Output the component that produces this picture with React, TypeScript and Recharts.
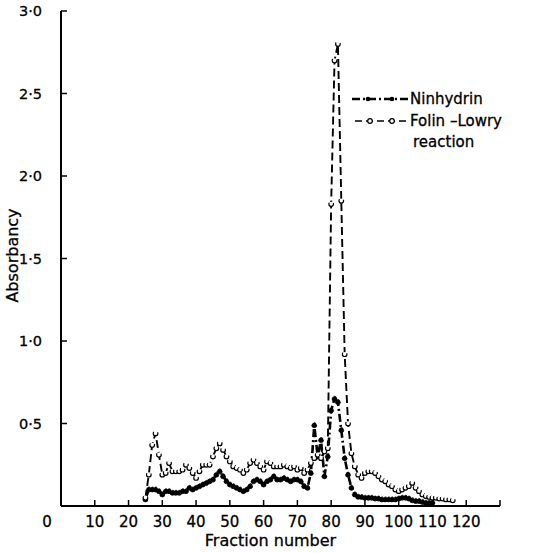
import React from 'react';
import { LineChart, Line, XAxis, YAxis } from 'recharts';

/**
 * Absorbancy of column fractions: ninhydrin vs Folin-Lowry reaction.
 * Ticks point inward, labels use a raised decimal point (0·5).
 */

const FRACTIONS = [
  25, 26, 27, 28, 29, 30, 31, 32, 33, 34, 35, 36, 37, 38, 39, 40, 41, 42, 43, 44,
  45, 46, 47, 48, 49, 50, 51, 52, 53, 54, 55, 56, 57, 58, 59, 60, 61, 62, 63, 64,
  65, 66, 67, 68, 69, 70, 71, 72, 73, 74, 75, 76, 77, 78, 79, 80, 81, 82, 83, 84,
  85, 86, 87, 88, 89, 90, 91, 92, 93, 94, 95, 96, 97, 98, 99, 100, 101, 102, 103, 104,
  105, 106, 107, 108, 109, 110, 111, 112, 113, 114, 115, 116,
];

// fractions 25–110
const NINHYDRIN = [
  0.04, 0.1, 0.1, 0.1, 0.09, 0.07, 0.09, 0.09, 0.08, 0.08, 0.08, 0.09, 0.09, 0.11, 0.1, 0.11,
  0.12, 0.13, 0.14, 0.15, 0.16, 0.19, 0.21, 0.18, 0.15, 0.13, 0.12, 0.11, 0.1, 0.09, 0.1, 0.12,
  0.15, 0.16, 0.15, 0.13, 0.15, 0.16, 0.18, 0.16, 0.16, 0.17, 0.16, 0.15, 0.16, 0.16, 0.15, 0.12,
  0.11, 0.2, 0.49, 0.3, 0.4, 0.18, 0.3, 0.58, 0.65, 0.63, 0.46, 0.29, 0.19, 0.11, 0.07, 0.056,
  0.055, 0.05, 0.05, 0.05, 0.045, 0.045, 0.04, 0.04, 0.04, 0.04, 0.04, 0.045, 0.05, 0.05, 0.045, 0.035,
  0.03, 0.03, 0.025, 0.02, 0.02, 0.02,
];

// fractions 25–116
const FOLIN_LOWRY = [
  0.05, 0.19, 0.37, 0.44, 0.31, 0.19, 0.2, 0.26, 0.21, 0.21, 0.21, 0.22, 0.25, 0.23, 0.2, 0.17,
  0.21, 0.25, 0.25, 0.25, 0.3, 0.35, 0.38, 0.34, 0.3, 0.27, 0.24, 0.23, 0.22, 0.2, 0.22, 0.26,
  0.28, 0.26, 0.24, 0.22, 0.27, 0.26, 0.24, 0.24, 0.24, 0.25, 0.24, 0.23, 0.24, 0.22, 0.23, 0.2,
  0.22, 0.26, 0.29, 0.31, 0.29, 0.33, 0.35, 1.83, 2.7, 2.8, 1.85, 0.92, 0.5, 0.32, 0.24, 0.19,
  0.17, 0.2, 0.21, 0.21, 0.2, 0.18, 0.16, 0.15, 0.13, 0.12, 0.1, 0.09, 0.1, 0.11, 0.12, 0.14,
  0.11, 0.09, 0.07, 0.06, 0.055, 0.05, 0.05, 0.045, 0.045, 0.04, 0.04, 0.035,
];

const X_TICKS = [0, 10, 20, 30, 40, 50, 60, 70, 80, 90, 100, 110, 120, 130];
const Y_TICKS = [0.5, 1, 1.5, 2, 2.5, 3];

const FONT = '"DejaVu Sans", sans-serif';
const INK = { fill: '#000', stroke: '#000', strokeWidth: 0.3, fontFamily: FONT };

const data = FRACTIONS.map((f, i) => ({
  fraction: f,
  ninhydrin: NINHYDRIN[i],
  folin: FOLIN_LOWRY[i],
}));

// inward tick + label below; "0" is nudged left of the y axis
function XTick({ x, y, payload }: any) {
  const v = payload.value;
  const dx = v === 0 ? -14 : 0;
  return (
    <g>
      <line x1={x} y1={y} x2={x} y2={y - 6} stroke="#000" strokeWidth={1.5} />
      {v !== 130 && (
        <text x={x + dx} y={y + 21} textAnchor="middle" fontSize={15} {...INK}>
          {v}
        </text>
      )}
    </g>
  );
}

function YTick({ x, y, payload }: any) {
  const label = payload.value.toFixed(1).replace('.', '·');
  return (
    <g>
      <line x1={x} y1={y} x2={x + 6} y2={y} stroke="#000" strokeWidth={1.5} />
      <text x={x - 19} y={y + 5} textAnchor="end" fontSize={14.5} {...INK}>
        {label}
      </text>
    </g>
  );
}

function XTitle({ viewBox }: any) {
  const cx = viewBox.x + viewBox.width / 2 - 10;
  return (
    <text x={cx} y={546} textAnchor="middle" fontSize={16} {...INK}>
      Fraction number
    </text>
  );
}

function YTitle({ viewBox }: any) {
  const cy = viewBox.y + viewBox.height / 2 - 3;
  return (
    <text x={18} y={cy} transform={`rotate(-90 18 ${cy})`} textAnchor="middle" fontSize={16} {...INK}>
      Absorbancy
    </text>
  );
}

function LegendBox() {
  const t = { fontSize: 15, ...INK };
  return (
    <svg width={180} height={70} style={{ position: 'absolute', left: 350, top: 89, overflow: 'visible' }}>
      <line x1={2} y1={10} x2={58} y2={10} stroke="#000" strokeWidth={2.5} strokeDasharray="8 3 2 3" />
      <circle cx={18} cy={10} r={2.3} fill="#000" />
      <circle cx={42} cy={10} r={2.3} fill="#000" />
      <text x={60} y={15} {...t}>Ninhydrin</text>
      <line x1={5} y1={32} x2={58} y2={32} stroke="#000" strokeWidth={1.5} strokeDasharray="7 4" />
      <circle cx={20} cy={32} r={2.3} fill="#fff" stroke="#000" strokeWidth={1.2} />
      <circle cx={42} cy={32} r={2.3} fill="#fff" stroke="#000" strokeWidth={1.2} />
      <text x={60} y={37} {...t}>Folin –Lowry</text>
      <text x={63} y={58} {...t}>reaction</text>
    </svg>
  );
}

export default function App() {
  return (
    <div style={{ position: 'absolute', left: 0, top: 0, width: 534, height: 553, background: '#fff' }}>
      <LineChart width={534} height={553} data={data} margin={{ top: 11, right: 34, left: 0, bottom: 0 }}>
        <XAxis
          dataKey="fraction"
          type="number"
          domain={[0, 130]}
          ticks={X_TICKS}
          interval={0}
          tick={<XTick />}
          tickLine={false}
          tickSize={0}
          tickMargin={0}
          height={47}
          axisLine={{ stroke: '#000', strokeWidth: 2 }}
          label={<XTitle />}
        />
        <YAxis
          type="number"
          domain={[0, 3]}
          ticks={Y_TICKS}
          interval={0}
          tick={<YTick />}
          tickLine={false}
          tickSize={0}
          tickMargin={0}
          width={61}
          axisLine={{ stroke: '#000', strokeWidth: 2 }}
          label={<YTitle />}
        />
        <Line
          dataKey="ninhydrin"
          stroke="#000"
          strokeWidth={2.6}
          strokeDasharray="8 3 2 3"
          dot={{ r: 2.5, fill: '#000', stroke: '#000', strokeWidth: 0.8 }}
          isAnimationActive={false}
        />
        <Line
          dataKey="folin"
          stroke="#000"
          strokeWidth={1.9}
          strokeDasharray="8 4"
          dot={{ r: 2.3, fill: '#fff', stroke: '#000', strokeWidth: 1.2 }}
          isAnimationActive={false}
        />
      </LineChart>
      <LegendBox />
    </div>
  );
}
